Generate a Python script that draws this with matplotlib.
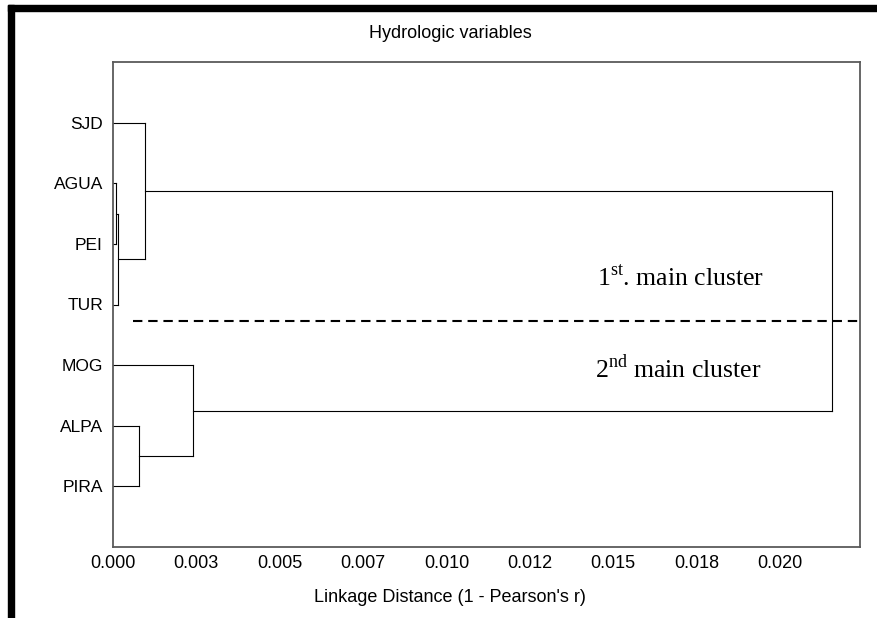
import numpy as np
import matplotlib
matplotlib.use("Agg")
import matplotlib.pyplot as plt
from matplotlib.patches import Rectangle

plt.rcParams['font.family'] = ['Liberation Sans', 'DejaVu Sans']
plt.rcParams['mathtext.fontset'] = 'custom'
plt.rcParams['mathtext.rm'] = 'Liberation Serif'

# ============ Data ============
leaves = ['SJD', 'AGUA', 'PEI', 'TUR', 'MOG', 'ALPA', 'PIRA']
# linkage rows: child a, child b, distance (nodes 7.. are the merges in order)
merge_a = [1, 7, 0, 5, 4, 9]
merge_b = [2, 3, 8, 6, 10, 11]
merge_d = [0.00008, 0.00015, 0.00097, 0.00077, 0.00239, 0.02157]

tick_vals = [0.0, 0.0025, 0.005, 0.0075, 0.010, 0.0125, 0.015, 0.0175, 0.020]
tick_labels = ['0.000', '0.003', '0.005', '0.007', '0.010', '0.012', '0.015', '0.018', '0.020']

fig = plt.figure(figsize=(8.78, 6.18), dpi=100)
ax = fig.add_axes([113 / 878, 1 - 547 / 618, 747 / 878, 485 / 618])

# ============ Dendrogram ============
ys = {i: i + 1.0 for i in range(len(leaves))}
xs = {i: 0.0 for i in range(len(leaves))}
for k, (a, b, d) in enumerate(zip(merge_a, merge_b, merge_d)):
    node = len(leaves) + k
    for c in (a, b):
        ax.plot([xs[c], d], [ys[c], ys[c]], color='black', lw=0.8)
    ax.plot([d, d], [ys[a], ys[b]], color='black', lw=0.8)
    xs[node] = d
    ys[node] = (ys[a] + ys[b]) / 2

# cut line between the two main clusters
ax.plot([0.0006, 0.0224], [4.27, 4.27], color='black', lw=1.5, dashes=(4.5, 2.8))

serif = ['Liberation Serif', 'DejaVu Serif']
ax.text(0.01451, 3.68, r'1$^{\mathrm{st}}$. main cluster', fontsize=18.5,
        family=serif, ha='left', va='baseline')
ax.text(0.01445, 5.21, r'2$^{\mathrm{nd}}$ main cluster', fontsize=18.5,
        family=serif, ha='left', va='baseline')

ax.set_xlim(0, 0.0224)
ax.set_ylim(8, 0)
ax.set_xticks(tick_vals)
ax.set_xticklabels(tick_labels)
ax.set_yticks(range(1, len(leaves) + 1))
ax.set_yticklabels(leaves)
ax.tick_params(axis='x', length=0, pad=5.5, labelsize=13)
ax.tick_params(axis='y', length=0, pad=7.2, labelsize=12.5)
for s in ax.spines.values():
    s.set_color('#5a5a5a')
    s.set_linewidth(1.3)

fig.text(450 / 878, 1 - 33 / 618, 'Hydrologic variables', fontsize=13,
         ha='center', va='center')
fig.text(450 / 878, 1 - 597 / 618, "Linkage Distance (1 - Pearson's r)", fontsize=13,
         ha='center', va='center')

# thick black frame on the left and top
fig.patches.append(Rectangle((8 / 878, 0), 6 / 878, 1 - 5 / 618,
                             transform=fig.transFigure, color='black', zorder=5))
fig.patches.append(Rectangle((8 / 878, 1 - 11 / 618), 1 - 8 / 878, 6 / 618,
                             transform=fig.transFigure, color='black', zorder=5))

fig.savefig('out.png', dpi=100)
